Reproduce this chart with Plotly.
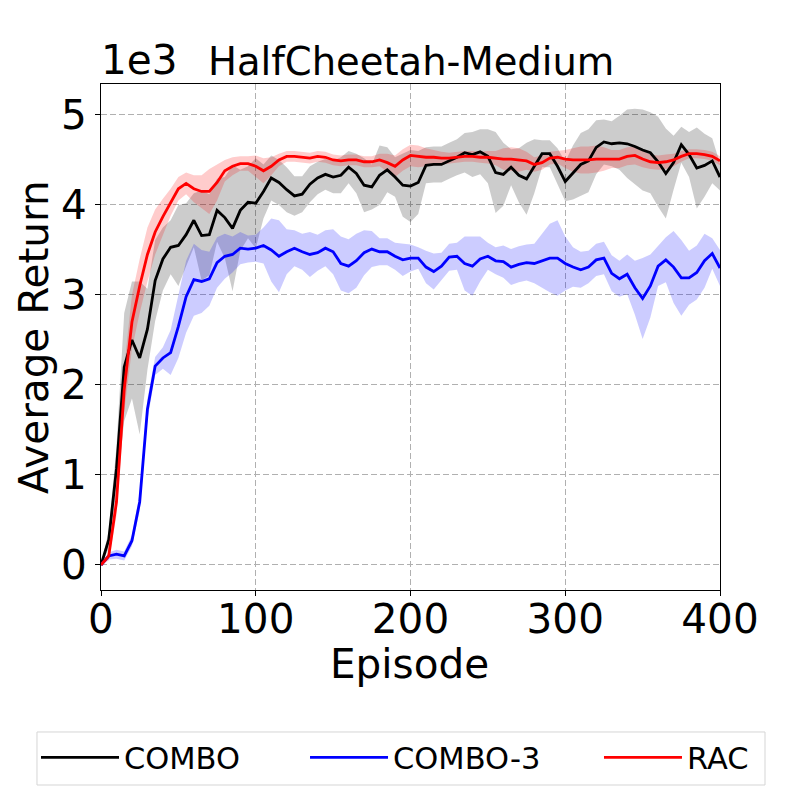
import plotly.graph_objects as go

# Episodes (x grid)
episodes = list(range(0, 401, 5))

# Average return (in units of 1e3)
combo_mean = [0.00, 0.28, 1.07, 2.20, 2.50, 2.30, 2.62, 3.16, 3.40, 3.53,
              3.55, 3.67, 3.83, 3.66, 3.67, 3.94, 3.86, 3.74, 3.94, 4.03,
              4.02, 4.15, 4.30, 4.25, 4.17, 4.10, 4.12, 4.23, 4.30, 4.34,
              4.31, 4.33, 4.42, 4.35, 4.22, 4.20, 4.33, 4.39, 4.31, 4.22,
              4.21, 4.25, 4.44, 4.45, 4.45, 4.49, 4.53, 4.58, 4.56, 4.59,
              4.54, 4.36, 4.34, 4.42, 4.33, 4.29, 4.43, 4.57, 4.57, 4.43,
              4.26, 4.36, 4.45, 4.49, 4.64, 4.70, 4.68, 4.69, 4.68, 4.65,
              4.61, 4.58, 4.48, 4.35, 4.47, 4.67, 4.56, 4.41, 4.44, 4.49,
              4.31]
combo_std = [0.00, 0.10, 0.25, 0.60, 0.65, 0.85, 0.45, 0.45, 0.35, 0.30,
             0.45, 0.35, 0.30, 0.50, 0.45, 0.35, 0.45, 0.70, 0.45, 0.40,
             0.50, 0.30, 0.25, 0.25, 0.25, 0.22, 0.20, 0.20, 0.18, 0.17,
             0.18, 0.20, 0.18, 0.22, 0.30, 0.25, 0.33, 0.25, 0.22, 0.35,
             0.40, 0.35, 0.20, 0.20, 0.20, 0.20, 0.20, 0.22, 0.25, 0.25,
             0.30, 0.45, 0.35, 0.20, 0.30, 0.40, 0.30, 0.15, 0.15, 0.20,
             0.22, 0.30, 0.35, 0.35, 0.30, 0.25, 0.25, 0.30, 0.38, 0.42,
             0.45, 0.45, 0.50, 0.50, 0.30, 0.20, 0.25, 0.45, 0.35, 0.25,
             0.15]

combo3_mean = [0.00, 0.10, 0.12, 0.10, 0.27, 0.70, 1.73, 2.21, 2.30, 2.36,
               2.65, 2.98, 3.17, 3.15, 3.18, 3.36, 3.43, 3.45, 3.52, 3.51,
               3.52, 3.55, 3.50, 3.43, 3.48, 3.52, 3.48, 3.45, 3.47, 3.52,
               3.48, 3.35, 3.32, 3.38, 3.47, 3.51, 3.48, 3.48, 3.43, 3.39,
               3.41, 3.41, 3.31, 3.26, 3.32, 3.42, 3.43, 3.35, 3.32, 3.40,
               3.43, 3.38, 3.37, 3.31, 3.34, 3.36, 3.35, 3.38, 3.41, 3.41,
               3.35, 3.31, 3.28, 3.31, 3.39, 3.41, 3.24, 3.18, 3.23, 3.08,
               2.96, 3.10, 3.32, 3.39, 3.31, 3.19, 3.19, 3.25, 3.38, 3.46,
               3.30]
combo3_std = [0.00, 0.04, 0.05, 0.05, 0.06, 0.10, 0.12, 0.10, 0.12, 0.25,
              0.35, 0.40, 0.40, 0.35, 0.30, 0.28, 0.25, 0.20, 0.18, 0.15,
              0.15, 0.20, 0.35, 0.40, 0.25, 0.20, 0.20, 0.25, 0.20, 0.20,
              0.25, 0.30, 0.30, 0.30, 0.25, 0.20, 0.15, 0.15, 0.15, 0.18,
              0.15, 0.12, 0.18, 0.20, 0.15, 0.15, 0.15, 0.30, 0.33, 0.25,
              0.15, 0.15, 0.18, 0.20, 0.20, 0.20, 0.22, 0.30, 0.38, 0.42,
              0.30, 0.22, 0.20, 0.18, 0.18, 0.18, 0.20, 0.20, 0.22, 0.30,
              0.45, 0.35, 0.22, 0.25, 0.40, 0.42, 0.30, 0.30, 0.30, 0.17,
              0.20]

rac_mean = [0.00, 0.10, 0.70, 1.95, 2.70, 3.10, 3.45, 3.70, 3.87, 4.03,
            4.18, 4.24, 4.18, 4.15, 4.15, 4.25, 4.38, 4.43, 4.46, 4.46,
            4.43, 4.38, 4.43, 4.50, 4.54, 4.54, 4.53, 4.52, 4.54, 4.53,
            4.50, 4.49, 4.50, 4.50, 4.48, 4.48, 4.50, 4.47, 4.43, 4.50,
            4.55, 4.54, 4.53, 4.53, 4.52, 4.52, 4.53, 4.54, 4.54, 4.53,
            4.53, 4.52, 4.51, 4.51, 4.50, 4.49, 4.45, 4.47, 4.52, 4.53,
            4.51, 4.50, 4.50, 4.50, 4.51, 4.51, 4.51, 4.51, 4.54, 4.55,
            4.51, 4.48, 4.47, 4.48, 4.50, 4.54, 4.57, 4.57, 4.56, 4.54,
            4.49]
rac_std = [0.00, 0.05, 0.15, 0.25, 0.30, 0.30, 0.30, 0.25, 0.20, 0.15,
           0.13, 0.12, 0.15, 0.18, 0.25, 0.20, 0.12, 0.10, 0.08, 0.08,
           0.12, 0.14, 0.10, 0.07, 0.06, 0.06, 0.06, 0.06, 0.06, 0.06,
           0.06, 0.06, 0.06, 0.06, 0.06, 0.06, 0.07, 0.10, 0.12, 0.12,
           0.12, 0.12, 0.10, 0.08, 0.07, 0.06, 0.06, 0.06, 0.06, 0.06,
           0.07, 0.08, 0.12, 0.13, 0.13, 0.10, 0.08, 0.08, 0.07, 0.07,
           0.10, 0.13, 0.15, 0.15, 0.15, 0.13, 0.10, 0.10, 0.10, 0.10,
           0.09, 0.08, 0.08, 0.08, 0.07, 0.06, 0.05, 0.05, 0.05, 0.05,
           0.05]

series_names = ["COMBO", "COMBO-3", "RAC"]
line_colors = ["#000000", "#0000ff", "#ff0000"]
band_colors = ["rgba(0,0,0,0.2)", "rgba(0,0,255,0.2)", "rgba(255,0,0,0.2)"]
legend_ids = ["legend", "legend2", "legend3"]
x_ticks = [0, 100, 200, 300, 400]
y_ticks = [0, 1, 2, 3, 4, 5]

means = [combo_mean, combo3_mean, rac_mean]
stds = [combo_std, combo3_std, rac_std]

fig = go.Figure()
for name, m, s, bc in zip(series_names, means, stds, band_colors):
    upper = [a + b for a, b in zip(m, s)]
    lower = [a - b for a, b in zip(m, s)]
    fig.add_trace(go.Scatter(
        x=episodes + episodes[::-1], y=upper + lower[::-1],
        fill="toself", fillcolor=bc, line=dict(width=0),
        mode="lines", showlegend=False, hoverinfo="skip"))
for name, m, lc, lg in zip(series_names, means, line_colors, legend_ids):
    fig.add_trace(go.Scatter(
        x=episodes, y=m, mode="lines", name=name, legend=lg,
        line=dict(color=lc, width=2.8)))

font_main = "DejaVu Sans"
FS = 40.5
axis_common = dict(
    showline=True, linecolor="black", linewidth=1.4, mirror=True,
    ticks="outside", ticklen=5, tickwidth=1.4, tickcolor="black",
    tickfont=dict(family=font_main, size=FS, color="black"),
    showgrid=True, gridcolor="#b0b0b0", gridwidth=1, griddash="6px,3px",
    zeroline=False, automargin=False,
)
legend_font = dict(family=font_main, size=30.5, color="black")
legend_common = dict(orientation="h", yanchor="top", xanchor="left",
                     font=legend_font, itemwidth=78, tracegroupgap=0,
                     borderwidth=0, bgcolor="rgba(0,0,0,0)", y=-0.2787)

fig.update_layout(
    width=800, height=800,
    margin=dict(l=93, r=88, t=76, b=218, autoexpand=False),
    plot_bgcolor="white", paper_bgcolor="white",
    font=dict(family=font_main, color="black"),
    xaxis=dict(range=[0, 400], tickvals=x_ticks, ticklabelstandoff=-12,
               **axis_common),
    yaxis=dict(range=[-0.278, 5.344], tickvals=y_ticks, **axis_common),
    showlegend=True,
    legend=dict(x=-0.105, **legend_common),
    legend2=dict(x=0.3296, **legend_common),
    legend3=dict(x=0.8045, **legend_common),
    shapes=[dict(type="rect", xref="paper", yref="paper",
                 x0=-0.1034, x1=1.0727, y0=-0.3854, y1=-0.2806,
                 line=dict(color="#d5d5d5", width=1), fillcolor="rgba(0,0,0,0)",
                 layer="above")],
    annotations=[
        dict(text="HalfCheetah-Medium", x=0.5, y=1, xref="paper", yref="paper",
             xanchor="center", yanchor="bottom", yshift=-2, showarrow=False,
             font=dict(family=font_main, size=38.5, color="black")),
        dict(text="1e3", x=0, y=1, xref="paper", yref="paper", xshift=-2,
             yshift=-2, xanchor="left", yanchor="bottom", showarrow=False,
             font=dict(family=font_main, size=FS, color="black")),
        dict(text="Episode", x=0.4976, y=-0.1462, xref="paper", yref="paper",
             xanchor="center", yanchor="middle", showarrow=False,
             font=dict(family=font_main, size=FS, color="black")),
        dict(text="Average Return", x=-0.1082, y=0.5, xref="paper", yref="paper",
             xanchor="center", yanchor="middle", textangle=-90, showarrow=False,
             font=dict(family=font_main, size=FS, color="black")),
    ],
)

fig.write_html("out.html")
